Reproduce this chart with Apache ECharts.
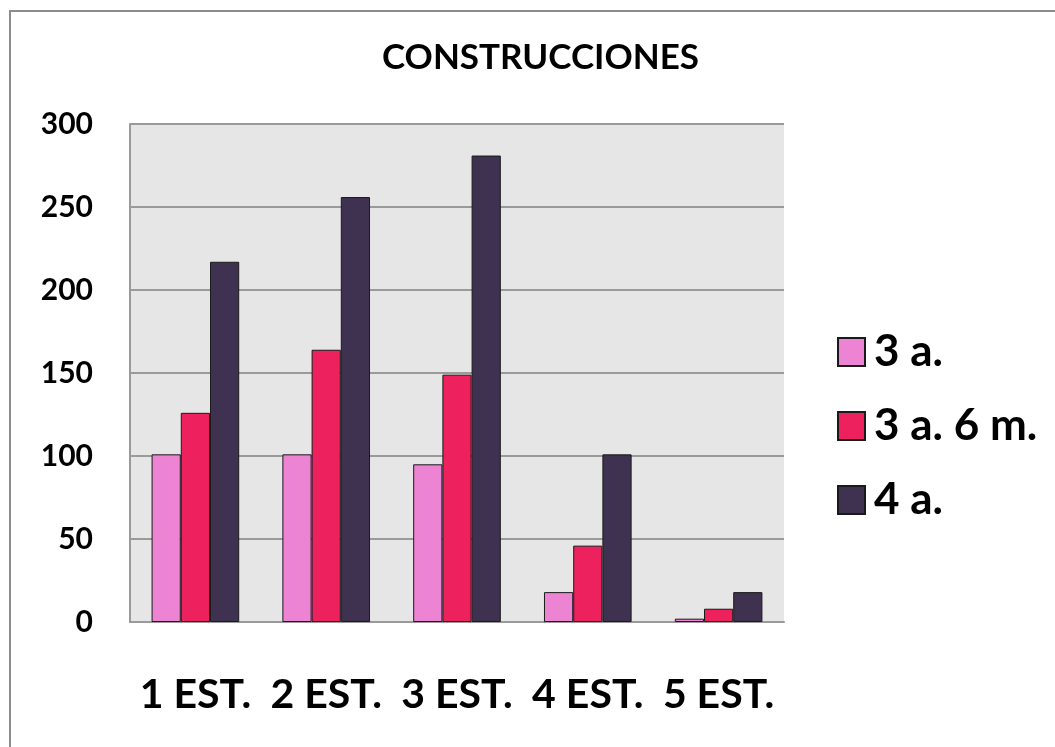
<!DOCTYPE html>
<html>
<head>
<meta charset="utf-8">
<script src="https://cdn.jsdelivr.net/npm/echarts@6/dist/echarts.min.js"></script>
<style>
  html, body { margin: 0; padding: 0; background: #fff; }
  #chart { width: 1055px; height: 747px; }
</style>
</head>
<body>
<div id="chart"></div>
<script>
const categories = ['1 EST.', '2 EST.', '3 EST.', '4 EST.', '5 EST.'];
const seriesNames = ['3 a.', '3 a. 6 m.', '4 a.'];
const values3a = [101, 101, 95, 18, 2];
const values3a6m = [126, 164, 149, 46, 8];
const values4a = [217, 256, 281, 101, 18];
const colors = ['#ec84d3', '#ec215d', '#3f3150'];

const font = 'Lato, "Open Sans", sans-serif';
const chart = echarts.init(document.getElementById('chart'));

const seriesData = [values3a, values3a6m, values4a];

chart.setOption({
  animation: false,
  textStyle: { fontFamily: font },
  title: {
    text: 'CONSTRUCCIONES',
    left: 377,
    top: 35,
    textStyle: { fontFamily: font, fontWeight: 'bold', fontSize: 35, color: '#000' }
  },
  graphic: [{
    type: 'rect',
    shape: { x: 10, y: 11, width: 1060, height: 760 },
    style: { fill: 'none', stroke: '#8c8c8c', lineWidth: 2 },
    silent: true
  }],
  legend: {
    orient: 'vertical',
    left: 832,
    top: 325,
    itemWidth: 27,
    itemHeight: 28,
    itemGap: 30,
    icon: 'rect',
    textStyle: { fontFamily: font, fontWeight: 'bold', fontSize: 44, color: '#000', padding: [0, 0, 0, 4] },
    data: seriesNames
  },
  grid: {
    left: 130,
    right: 271,
    top: 124,
    bottom: 125,
    show: true,
    backgroundColor: '#e6e6e6',
    borderWidth: 0
  },
  xAxis: {
    type: 'category',
    data: categories,
    axisTick: { show: false },
    axisLine: { lineStyle: { color: '#9a9a9a', width: 2 } },
    axisLabel: { interval: 0, fontFamily: font, fontWeight: 'bold', fontSize: 41, color: '#000', margin: 52 }
  },
  yAxis: {
    type: 'value',
    min: 0,
    max: 300,
    interval: 50,
    axisLine: { show: true, lineStyle: { color: '#9a9a9a', width: 2 } },
    axisTick: { show: false },
    splitLine: { lineStyle: { color: '#9a9a9a', width: 2 } },
    axisLabel: { fontFamily: font, fontWeight: 'bold', fontSize: 30, color: '#000', margin: 37 }
  },
  series: seriesNames.map((name, i) => ({
    name: name,
    type: 'bar',
    data: seriesData[i],
    barGap: '0%',
    barCategoryGap: '33%',
    itemStyle: { color: colors[i], borderColor: '#1a1a1a', borderWidth: 1 }
  }))
});
</script>
</body>
</html>
